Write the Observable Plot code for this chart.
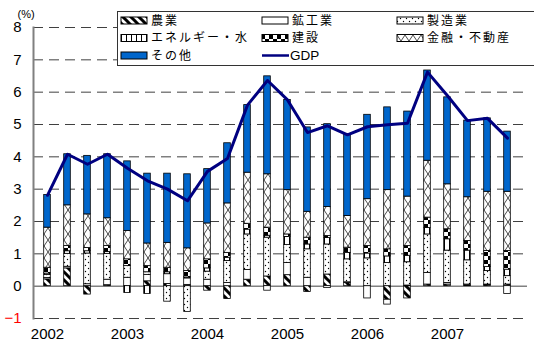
<!DOCTYPE html>
<html>
<head>
<meta charset="utf-8">
<script src="https://cdn.jsdelivr.net/npm/d3@7"></script>
<script src="https://cdn.jsdelivr.net/npm/@observablehq/plot@0.6"></script>
<style>
  body { margin: 0; background: #fff; }
  #wrap { position: relative; width: 534px; height: 342px; overflow: hidden; }
  #legend { position: absolute; left: 117px; top: 11px; }
</style>
</head>
<body>
<!-- fill patterns shared by the bars and the legend swatches -->
<svg width="0" height="0" style="position:absolute">
  <defs>
    <pattern id="p-agri" patternUnits="userSpaceOnUse" width="8" height="8">
      <rect width="8" height="8" fill="#fff"/>
      <path d="M-2,-2 L10,10 M6,-2 L10,2 M-2,6 L2,10" stroke="#000" stroke-width="3"/>
    </pattern>
    <pattern id="p-manuf" patternUnits="userSpaceOnUse" width="6" height="6">
      <rect width="6" height="6" fill="#fff"/>
      <circle cx="1.5" cy="1.5" r="0.7" fill="#000"/>
      <circle cx="4.5" cy="4.5" r="0.7" fill="#000"/>
    </pattern>
    <pattern id="p-energy" patternUnits="userSpaceOnUse" width="5" height="5">
      <rect width="5" height="5" fill="#fff"/>
      <rect x="4" width="1" height="5" fill="#000"/>
    </pattern>
    <pattern id="p-constr" patternUnits="userSpaceOnUse" width="8" height="8">
      <rect width="8" height="8" fill="#fff"/>
      <rect x="0" y="0" width="4" height="4" fill="#000"/>
      <rect x="4" y="4" width="4" height="4" fill="#000"/>
    </pattern>
    <pattern id="p-fin" patternUnits="userSpaceOnUse" width="8" height="12">
      <rect width="8" height="12" fill="#fff"/>
      <path d="M0,0 L8,12 M8,0 L0,12" stroke="#000" stroke-width="0.7"/>
    </pattern>
  </defs>
</svg>
<div id="wrap"></div>
<script>
// Quarters 2002Q1 – 2007Q4
const quarters = [
  "2002Q1","2002Q2","2002Q3","2002Q4",
  "2003Q1","2003Q2","2003Q3","2003Q4",
  "2004Q1","2004Q2","2004Q3","2004Q4",
  "2005Q1","2005Q2","2005Q3","2005Q4",
  "2006Q1","2006Q2","2006Q3","2006Q4",
  "2007Q1","2007Q2","2007Q3","2007Q4"
];
const sectors = ["農業", "鉱工業", "製造業", "エネルギー・水", "建設", "金融・不動産", "その他"];

// Contribution to GDP growth by sector (percentage points)
const agriculture = [0.21,0.55,-0.26,0.03, 0,0.15,0.07,0.04, -0.14,-0.40,0.20,0.30, 0.34,-0.18,0.36,0.10, 0,-0.42,-0.38,0.05, 0.05,0.02,0.03,0.05];
const mining      = [0.04,0.05,0.06,0.17, 0.26,0.20,0.30,0.20, 0.20,0.10,0.30,-0.14, 0.38,0.26,-0.06,0.02, -0.38,-0.15,0.02,0.36, 0.05,0.03,0.02,-0.24];
const manufacturing = [0.10,0.40,0.95,0.80, 0.36,0.08,-0.48,-0.80, 0.25,0.68,1.10,1.20, 0.55,0.88,0.93,0.71, 0.86,0.72,0.72,1.19, 1.00,0.75,0.42,0.26];
const energyWater = [0.04,0.08,0.07,0.06, -0.21,-0.24,0.06,0.03, 0.10,0.10,0.15,0.06, 0.25,0.15,0.20,0.20, 0.15,0.20,0.20,0.20, 0.35,0.30,0.12,0.20];
const construction = [0.18,0.16,0.10,0.18, 0.21,0.19,0.14,0.20, 0.28,0.15,0.18,0.25, 0.08,0.21,0.06,0.16, 0.23,0.22,0.30,0.32, 0.31,0.30,0.50,0.58];
const finance     = [1.24,1.26,1.04,0.86, 0.88,0.70,0.77,0.70, 1.11,1.53,1.58,1.65, 1.37,0.80,0.90,0.98, 1.45,1.83,1.53,1.76, 1.39,1.35,1.83,1.83];
const others      = [1.01,1.58,1.81,1.98, 2.15,2.16,2.14,2.29, 1.68,1.86,2.09,3.03, 2.79,2.61,2.56,2.53, 2.61,2.56,2.63,2.79, 2.69,2.37,2.27,1.86];
// Real GDP growth (%)
const gdp         = [2.81,4.08,3.77,4.08, 3.65,3.26,3.00,2.64, 3.55,3.95,5.60,6.36, 5.76,4.75,4.96,4.68, 4.93,4.99,5.04,6.62, 5.89,5.12,5.19,4.58];

const yTicks = [0, 1, 2, 3, 4, 5, 6, 7, 8];
const yNegTicks = [-1];
const gridLines = [-1, 1, 2, 3, 4, 5, 6, 7, 8];
const yearTicks = quarters.filter(q => q.endsWith("Q1"));

const series = [agriculture, mining, manufacturing, energyWater, construction, finance, others];
const sectorFill = {
  "農業": "url(#p-agri)",
  "鉱工業": "#ffffff",
  "製造業": "url(#p-manuf)",
  "エネルギー・水": "url(#p-energy)",
  "建設": "url(#p-constr)",
  "金融・不動産": "url(#p-fin)",
  "その他": "#0066cc"
};

const rows = [];
quarters.forEach((q, i) => sectors.forEach((s, j) => rows.push({quarter: q, sector: s, value: series[j][i]})));
const gdpRows = quarters.map((q, i) => ({quarter: q, gdp: gdp[i]}));

const numFont = "'Liberation Sans', Arial, sans-serif";

const chart = Plot.plot({
  width: 534,
  height: 342,
  marginLeft: 33,
  marginRight: 7,
  marginTop: 27,
  marginBottom: 24,
  style: {fontFamily: numFont, fontSize: "15px", color: "#000", background: "#fff"},
  x: {type: "band", domain: quarters, range: [25.5, 527.5], padding: 0, axis: null},
  y: {domain: [-1, 8], axis: null},
  color: {type: "identity"},
  marks: [
    Plot.ruleY(gridLines, {stroke: "#404040", strokeWidth: 1, strokeDasharray: "10,6"}),
    Plot.ruleY([0], {stroke: "#808080", strokeWidth: 1.5}),
    Plot.barY(rows, {
      x: "quarter", y: "value",
      fill: d => sectorFill[d.sector],
      stroke: "#000", strokeWidth: 0.8,
      insetLeft: 6.7, insetRight: 6.7
    }),
    Plot.frame({anchor: "left", stroke: "#808080", strokeWidth: 2}),
    Plot.lineY(gdpRows, {x: "quarter", y: "gdp", stroke: "#000080", strokeWidth: 3}),
    Plot.axisY({ticks: yTicks, tickSize: 0, tickPadding: 12, fill: "#000", label: null}),
    Plot.axisY({ticks: yNegTicks, tickSize: 0, tickPadding: 12, fill: "#ff0000", label: null}),
    Plot.axisX({ticks: yearTicks, tickFormat: q => q.slice(0, 4), tickSize: 0, tickPadding: 10, fill: "#000", label: null}),
    Plot.text(["(%)"], {frameAnchor: "top-left", dx: -16, dy: -17, fontSize: 11, fill: "#000"})
  ]
});
document.getElementById("wrap").append(chart);

// Legend box drawn over the upper part of the plot area
const legendItems = [
  {label: "農業", kind: "rect", key: "農業", col: 0, row: 0},
  {label: "鉱工業", kind: "rect", key: "鉱工業", col: 1, row: 0},
  {label: "製造業", kind: "rect", key: "製造業", col: 2, row: 0},
  {label: "エネルギー・水", kind: "rect", key: "エネルギー・水", col: 0, row: 1},
  {label: "建設", kind: "rect", key: "建設", col: 1, row: 1},
  {label: "金融・不動産", kind: "rect", key: "金融・不動産", col: 2, row: 1},
  {label: "その他", kind: "rect", key: "その他", col: 0, row: 2},
  {label: "GDP", kind: "line", col: 1, row: 2}
];
const colX = [4, 145, 280];
const rowY = [9.5, 27, 44.5];

const leg = d3.select("#wrap").append("svg")
  .attr("id", "legend")
  .attr("width", 430).attr("height", 56);
leg.append("rect")
  .attr("x", 0.5).attr("y", 0.5).attr("width", 440).attr("height", 54)
  .attr("fill", "#fff").attr("stroke", "#333").attr("stroke-width", 1);

for (const it of legendItems) {
  const x = colX[it.col], y = rowY[it.row];
  if (it.kind === "rect") {
    leg.append("rect")
      .attr("x", x).attr("y", y - 3.5).attr("width", 26).attr("height", 7)
      .attr("fill", sectorFill[it.key]).attr("stroke", "#000").attr("stroke-width", 1);
  } else {
    leg.append("line")
      .attr("x1", x).attr("x2", x + 27).attr("y1", y).attr("y2", y)
      .attr("stroke", "#000080").attr("stroke-width", 2.5);
  }
  const t = leg.append("text")
    .attr("x", it.kind === "line" ? x + 28 : x + 30)
    .attr("y", y)
    .attr("dy", "0.35em")
    .attr("fill", "#000")
    .text(it.label);
  if (it.kind === "line") {
    t.attr("font-family", numFont).attr("font-size", 13.5);
  } else {
    t.attr("font-family", "'Noto Sans CJK JP', sans-serif")
     .attr("font-size", 12)
     .attr("letter-spacing", "2px");
  }
}
</script>
</body>
</html>
